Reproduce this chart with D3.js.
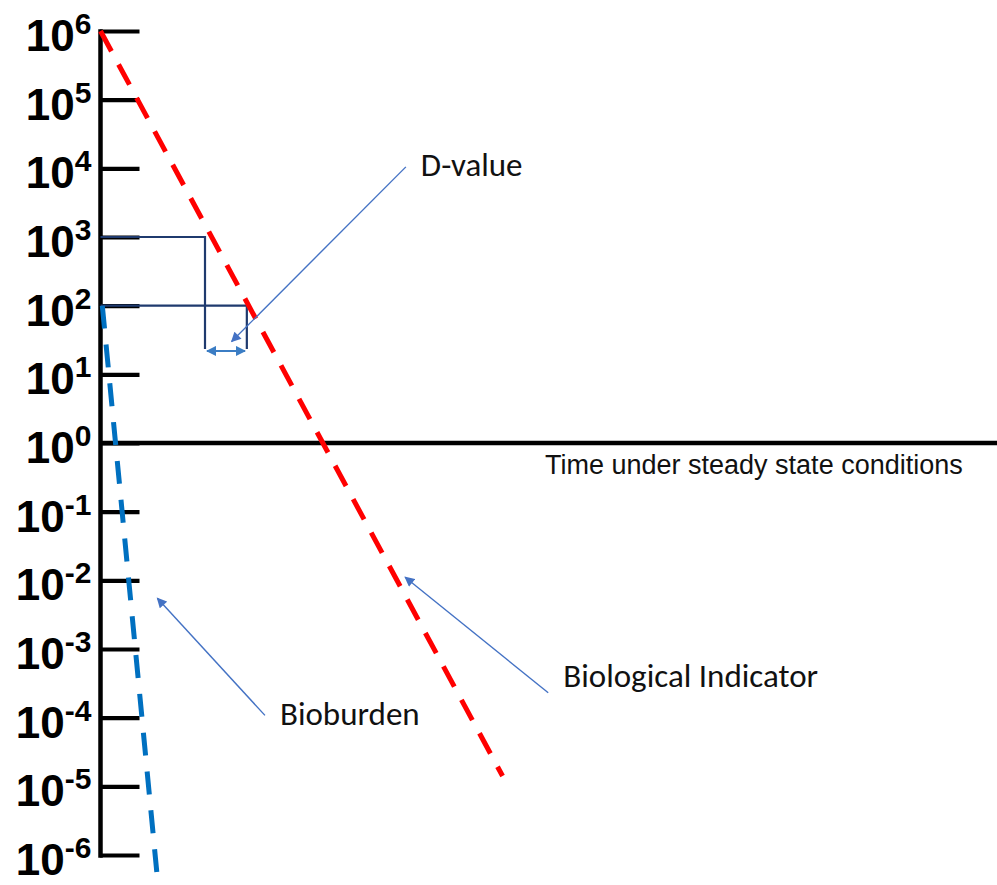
<!DOCTYPE html>
<html lang="en">
<head>
    <meta charset="UTF-8">
    <title>Survival curves</title>
    <script src="https://d3js.org/d3.v7.min.js"></script>
    <style>
        body { margin: 0; background: #fff; }
    </style>
</head>
<body>
    <svg width="997" height="885" id="chart"></svg>

    <script>
        // y ticks: powers of ten from 10^6 down to 10^-6
        var exponents = [6, 5, 4, 3, 2, 1, 0, -1, -2, -3, -4, -5, -6];

        // biological indicator (time, count)
        var biTime = [0, 11.1];
        var biCount = [1e6, Math.pow(10, -4.85)];

        // bioburden (time, count)
        var bbTime = [0.05, 1.6];
        var bbCount = [100, Math.pow(10, -6.5)];

        // D-value bracket: time where the BI line crosses 10^3 and 10^2, and how far down the drop lines go
        var bracketTime = [2.885, 4.04];
        var bracketCount = [1000, 100];
        var bracketBottom = 23.4;
        var dArrowCount = 21.9;
        var dArrowTime = [2.94, 3.99];

        // annotations: label, tail (time, count), tip (time, count)
        var annoLabels = ["D-value", "Biological Indicator", "Bioburden"];
        var annoTail = [[8.43, 10500], [12.36, 2.3e-4], [4.54, 1.08e-4]];
        var annoTip = [[3.62, 30], [8.41, 0.0111], [1.57, 0.00547]];

        var xLabel = "Time under steady state conditions";

        var svg = d3.select("#chart"),
            width = +svg.attr("width"),
            height = +svg.attr("height");

        var x = d3.scaleLinear().domain([0, 24.75]).range([100.5, 997]);
        var y = d3.scaleLog().domain([1e-6, 1e6]).range([855, 31]);

        var defs = svg.append("defs");
        function marker(id, color) {
            defs.append("marker")
                .attr("id", id)
                .attr("viewBox", "0 0 10 10")
                .attr("refX", 9)
                .attr("refY", 5)
                .attr("markerUnits", "userSpaceOnUse")
                .attr("markerWidth", 11)
                .attr("markerHeight", 10)
                .attr("orient", "auto-start-reverse")
                .append("path")
                .attr("d", "M0,0L10,5L0,10z")
                .attr("fill", color);
        }
        marker("annoHead", "#4472c4");
        marker("dHead", "#3b7dc4");

        // y axis with ticks pointing right
        var yAxis = d3.axisLeft(y)
            .tickValues(exponents.map(e => Math.pow(10, e)))
            .tickSizeInner(-39.5)
            .tickSizeOuter(0)
            .tickPadding(8.5);

        var gy = svg.append("g")
            .attr("transform", "translate(100,0)")
            .call(yAxis);

        gy.select(".domain")
            .attr("stroke", "#000")
            .attr("stroke-width", 4.5)
            .attr("stroke-linecap", "square");

        gy.selectAll(".tick line")
            .attr("stroke", "#000")
            .attr("stroke-width", 4.2);

        gy.selectAll(".tick text")
            .attr("font-family", "Arial, 'Liberation Sans', sans-serif")
            .attr("font-weight", "bold")
            .attr("font-size", 44)
            .attr("fill", "#000")
            .attr("dy", 19.5)
            .each(function (d, i) {
                var t = d3.select(this).text(null);
                t.append("tspan").text("10");
                t.append("tspan")
                    .attr("dy", -17)
                    .attr("font-size", 30)
                    .text(exponents[i] < 0 ? "-" + (-exponents[i]) : exponents[i]);
            });

        // horizontal line at 10^0 running to the right edge
        svg.append("line")
            .attr("x1", x(0))
            .attr("x2", width)
            .attr("y1", y(1))
            .attr("y2", y(1))
            .attr("stroke", "#000")
            .attr("stroke-width", 4.5);

        svg.append("text")
            .attr("x", 545)
            .attr("y", y(1) + 31)
            .attr("font-family", "Arial, 'Liberation Sans', sans-serif")
            .attr("font-size", 27)
            .attr("fill", "#111")
            .text(xLabel);

        var line = d3.line()
            .x(d => x(d[0]))
            .y(d => y(d[1]));

        // D-value bracket
        svg.selectAll(".bracket")
            .data(bracketTime)
            .join("path")
            .attr("class", "bracket")
            .attr("fill", "none")
            .attr("stroke", "#1f3a6e")
            .attr("stroke-width", 2.2)
            .attr("d", (d, i) => line([[0, bracketCount[i]], [d, bracketCount[i]], [d, bracketBottom]]));

        svg.append("path")
            .attr("fill", "none")
            .attr("stroke", "#3b7dc4")
            .attr("stroke-width", 2)
            .attr("marker-start", "url(#dHead)")
            .attr("marker-end", "url(#dHead)")
            .attr("d", line(dArrowTime.map(t => [t, dArrowCount])));

        // decay lines
        svg.append("path")
            .attr("fill", "none")
            .attr("stroke", "#ff0000")
            .attr("stroke-width", 5)
            .attr("stroke-dasharray", "23,15")
            .attr("d", line(biTime.map((t, i) => [t, biCount[i]])));

        svg.append("path")
            .attr("fill", "none")
            .attr("stroke", "#0070c0")
            .attr("stroke-width", 5)
            .attr("stroke-dasharray", "23,16")
            .attr("d", line(bbTime.map((t, i) => [t, bbCount[i]])));

        // annotation arrows and labels
        var labelShift = [[15, 9], [15, -6], [15, 10]];

        svg.selectAll(".anno")
            .data(annoLabels)
            .join("path")
            .attr("class", "anno")
            .attr("fill", "none")
            .attr("stroke", "#4472c4")
            .attr("stroke-width", 1.4)
            .attr("marker-end", "url(#annoHead)")
            .attr("d", (d, i) => line([annoTail[i], annoTip[i]]));

        svg.selectAll(".annoLabel")
            .data(annoLabels)
            .join("text")
            .attr("class", "annoLabel")
            .attr("x", (d, i) => x(annoTail[i][0]) + labelShift[i][0])
            .attr("y", (d, i) => y(annoTail[i][1]) + labelShift[i][1])
            .attr("font-family", "Calibri, Carlito, Lato, sans-serif")
            .attr("font-size", 33)
            .attr("fill", "#111")
            .text(d => d);
    </script>
</body>
</html>
